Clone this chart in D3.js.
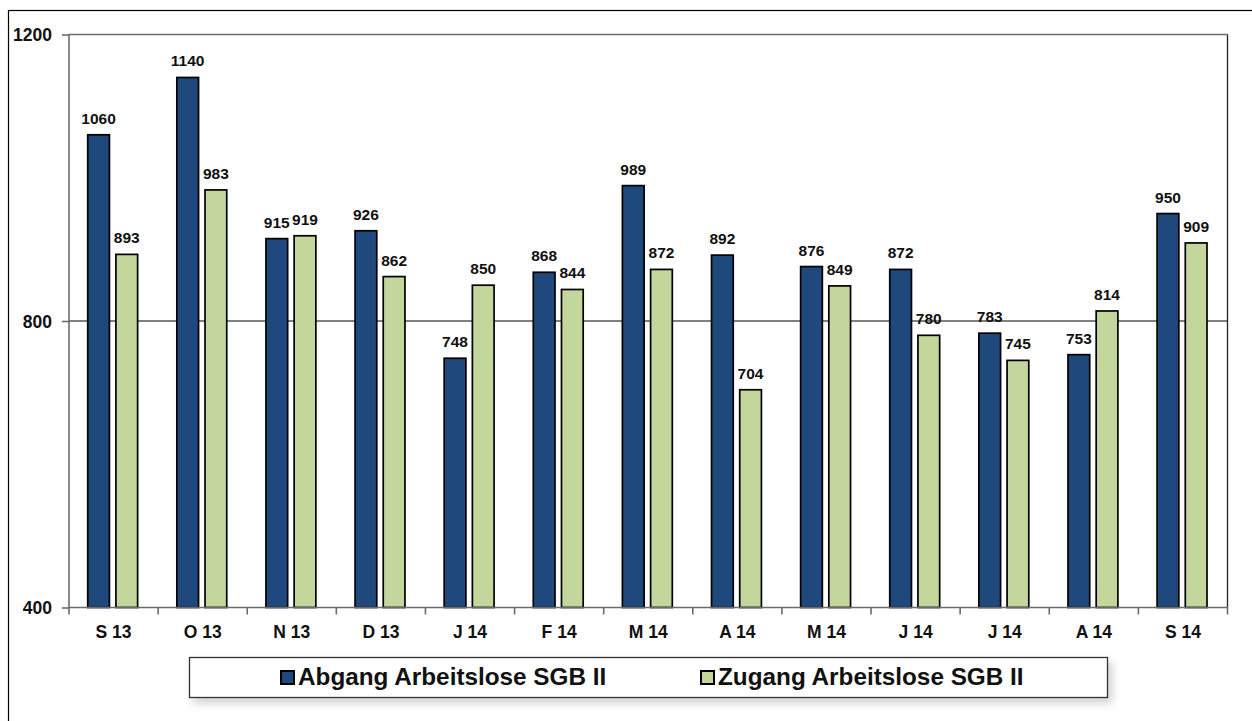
<!DOCTYPE html>
<html>
<head>
<meta charset="utf-8">
<script src="https://cdn.jsdelivr.net/npm/d3@7"></script>
<style>
  html, body { margin: 0; padding: 0; background: #fff; }
  svg { display: block; font-family: "Liberation Sans", Arial, sans-serif; }
</style>
</head>
<body>
<svg id="chart" width="1252" height="721"></svg>
<script>
const categories = ["S 13","O 13","N 13","D 13","J 14","F 14","M 14","A 14","M 14","J 14","J 14","A 14","S 14"];
const abgang = [1060,1140,915,926,748,868,989,892,876,872,783,753,950];
const zugang = [893,983,919,862,850,844,872,704,849,780,745,814,909];
const seriesNames = ["Abgang Arbeitslose SGB II","Zugang Arbeitslose SGB II"];
const seriesColors = ["#1f497d","#c3d69b"];
const yTicks = [400,800,1200];

(function(){
const svg = d3.select("#chart");

// outer frame
svg.append("rect").attr("x",8.5).attr("y",10.5).attr("width",1400).attr("height",900)
  .attr("fill","none").attr("stroke","#000").attr("stroke-width",1.2);

const pL = 69, pR = 1227.5, pT = 34.5, pB = 607.5;

const y = d3.scaleLinear().domain([400,1200]).range([pB, pT]);
const x = d3.scaleBand().domain(d3.range(categories.length)).range([pL, pR]).padding(0);
const bw = x.bandwidth();
const xi = d3.scaleBand().domain([0,1]).range([bw*0.21, bw*0.77]).paddingInner(0.23);

// gridline at 800
svg.append("line").attr("x1",pL).attr("x2",pR).attr("y1",y(800)).attr("y2",y(800))
  .attr("stroke","#000").attr("stroke-width",1);

// plot border top & right
svg.append("line").attr("x1",pL).attr("x2",pR).attr("y1",y(1200)).attr("y2",y(1200))
  .attr("stroke","#6b6b6b").attr("stroke-width",1.6);
svg.append("line").attr("x1",pR).attr("x2",pR).attr("y1",pT).attr("y2",pB)
  .attr("stroke","#222").attr("stroke-width",1.3);

// bars
const groups = svg.append("g").selectAll("g").data(categories).join("g")
  .attr("transform",(d,i)=>`translate(${x(i)},0)`);
[abgang, zugang].forEach((vals, s) => {
  groups.append("rect")
    .attr("x", xi(s))
    .attr("width", xi.bandwidth())
    .attr("y", (d,i)=>y(vals[i]))
    .attr("height", (d,i)=>pB - y(vals[i]))
    .attr("fill", seriesColors[s])
    .attr("stroke","#000").attr("stroke-width",1.7);
  groups.append("text")
    .attr("x", xi(s) + xi.bandwidth()/2)
    .attr("y", (d,i)=>y(vals[i]) - 11)
    .attr("text-anchor","middle")
    .attr("font-size","15.5px").attr("font-weight","bold").attr("fill","#111")
    .text((d,i)=>vals[i]);
});

// y axis
const yAxis = d3.axisLeft(y).tickValues(yTicks).tickSize(7).tickFormat(d3.format("d"));
const ya = svg.append("g").attr("transform",`translate(${pL},0)`).call(yAxis);
ya.select(".domain").attr("stroke","#6b6b6b").attr("stroke-width",1.6).attr("d",`M0,${pT}V${pB}`);
ya.selectAll(".tick line").attr("stroke","#6b6b6b").attr("stroke-width",1.6);
ya.selectAll(".tick text").attr("x",-17).attr("dy","0.36em")
  .attr("font-size","17.5px").attr("font-weight","bold").attr("fill","#111")
  .attr("font-family","Liberation Sans, Arial, sans-serif");

// x axis
const xAxis = d3.axisBottom(x).tickSize(0).tickFormat(i=>categories[i]);
const xa = svg.append("g").attr("transform",`translate(0,${pB})`).call(xAxis);
xa.select(".domain").attr("stroke","#6b6b6b").attr("stroke-width",1.6).attr("d",`M${pL},0H${pR}`);
xa.selectAll(".tick text").attr("y",18).attr("dy","0.71em")
  .attr("font-size","17.5px").attr("font-weight","bold").attr("fill","#111")
  .attr("font-family","Liberation Sans, Arial, sans-serif");
// boundary ticks
const bounds = d3.range(categories.length+1).map(i => pL + i*x.step());
svg.append("g").selectAll("line").data(bounds).join("line")
  .attr("x1",d=>d).attr("x2",d=>d).attr("y1",pB).attr("y2",pB+7)
  .attr("stroke","#6b6b6b").attr("stroke-width",1.6);

// legend
const defs = svg.append("defs");
const f = defs.append("filter").attr("id","shadow").attr("x","-5%").attr("y","-30%").attr("width","115%").attr("height","180%");
f.append("feDropShadow").attr("dx",4).attr("dy",5).attr("stdDeviation",4).attr("flood-color","#000").attr("flood-opacity",0.18);
svg.append("rect").attr("x",189.5).attr("y",657.5).attr("width",918).attr("height",40)
  .attr("fill","#fff").attr("stroke","#333").attr("stroke-width",1.3).attr("filter","url(#shadow)");
const legX = [281, 701];
seriesNames.forEach((name, s) => {
  svg.append("rect").attr("x",legX[s]).attr("y",671).attr("width",13).attr("height",13)
    .attr("fill",seriesColors[s]).attr("stroke","#000").attr("stroke-width",2);
  svg.append("text").attr("x",legX[s]+17).attr("y",685)
    .attr("font-size","24.3px").attr("font-weight","bold").attr("fill","#111")
    .text(name);
});
})();
</script>
</body>
</html>
